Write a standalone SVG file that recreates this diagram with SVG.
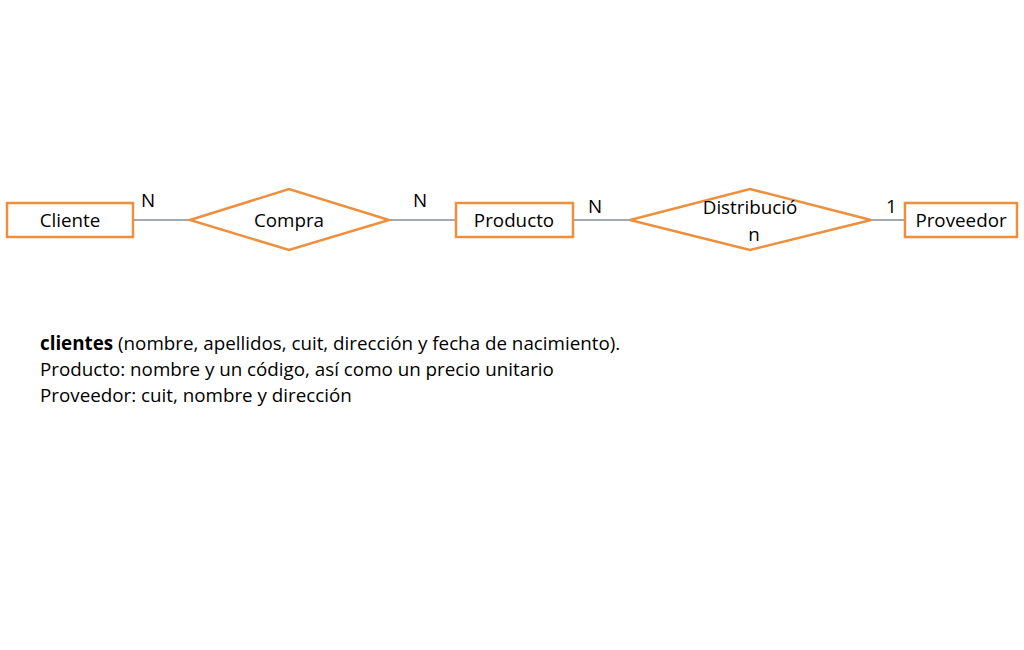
<svg xmlns="http://www.w3.org/2000/svg" width="1024" height="650" viewBox="0 0 1024 650">
<style>
.n{fill:#fff;stroke:#ED8F3C;stroke-width:2.5}
.c{stroke:#A2AAB5;stroke-width:1.8}
text{font-family:"Open Sans","Liberation Sans",sans-serif;font-size:18.8px;fill:#000}
.m{text-anchor:middle}
</style>
<rect width="1024" height="650" fill="#fff"/>
<g id="connectors">
<line class="c" x1="133" y1="220" x2="190" y2="220"/>
<line class="c" x1="389" y1="220" x2="456" y2="220"/>
<line class="c" x1="573" y1="220" x2="630" y2="220"/>
<line class="c" x1="871" y1="220" x2="905" y2="220"/>
</g>
<g id="cliente"><rect class="n" x="7" y="203" width="126" height="34"/><text class="m" x="70" y="227">Cliente</text></g>
<g id="compra"><polygon class="n" points="190,220 289,189 389,220 289,250"/><text class="m" x="289" y="227">Compra</text></g>
<g id="producto"><rect class="n" x="456" y="203" width="117" height="34"/><text class="m" x="514" y="227">Producto</text></g>
<g id="distribucion"><polygon class="n" points="630,220 750,189 871,220 750,250"/><text class="m" x="750" y="214">Distribució</text><text class="m" x="754" y="241">n</text></g>
<g id="proveedor"><rect class="n" x="905" y="203" width="112" height="34"/><text class="m" x="961" y="227">Proveedor</text></g>
<g id="labels">
<text x="141" y="207">N</text>
<text x="413" y="207">N</text>
<text x="588" y="213">N</text>
<text x="886" y="213">1</text>
</g>
<g id="notes">
<text x="40" y="350"><tspan font-weight="bold">clientes</tspan> (nombre, apellidos, cuit, dirección y fecha de nacimiento).</text>
<text x="40" y="376">Producto: nombre y un código, así como un precio unitario</text>
<text x="40" y="402">Proveedor: cuit, nombre y dirección</text>
</g>
</svg>
